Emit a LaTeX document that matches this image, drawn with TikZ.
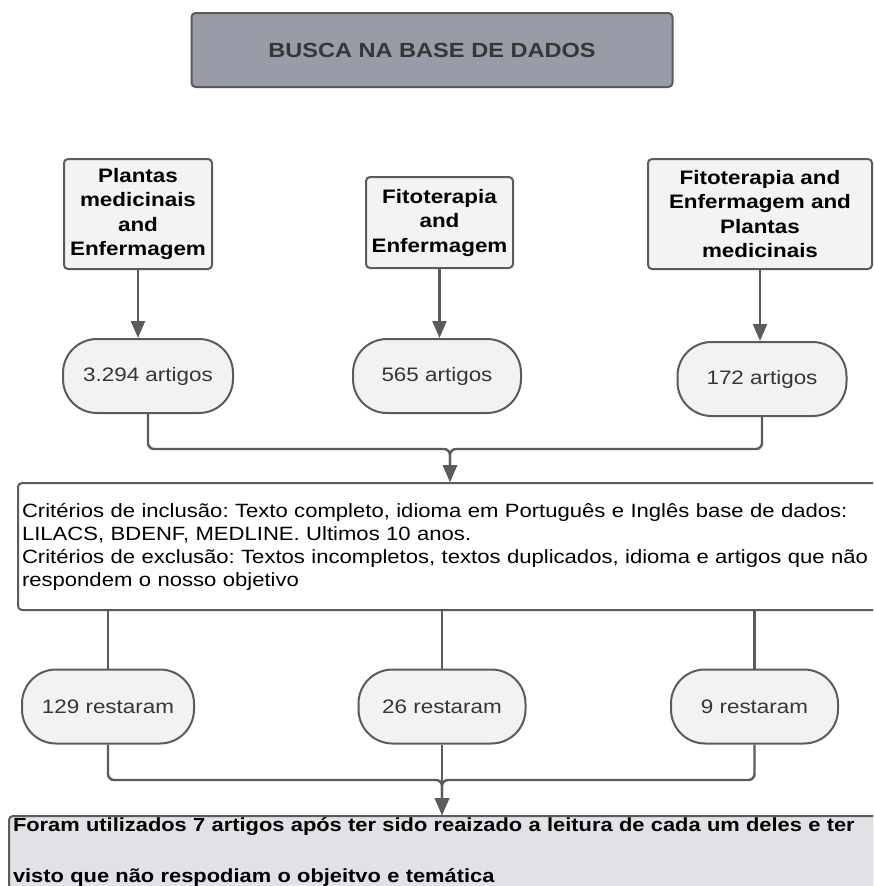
\documentclass[tikz,border=0pt]{standalone}
\usepackage{fontspec}
\setmainfont[FakeStretch=1.15]{Liberation Sans}
\frenchspacing
\usetikzlibrary{arrows.meta}
\definecolor{linegray}{HTML}{5B5B5B}
\definecolor{titlefill}{HTML}{979CA6}
\definecolor{boxfill}{HTML}{F2F3F5}
\definecolor{ovalfill}{HTML}{F1F2F4}
\definecolor{endfill}{HTML}{E0E2E6}
\definecolor{darktext}{HTML}{363636}

\begin{document}
\begin{tikzpicture}[x=1pt,y=-1pt,
    searchbox/.style={draw=linegray, line width=2pt, fill=boxfill, rounded corners=4pt,
      align=center, inner sep=2pt, font=\fontsize{19.5}{24.5}\selectfont\bfseries},
    countoval/.style={draw=linegray, line width=2pt, fill=ovalfill, rounded corners=34pt,
      minimum width=169pt, minimum height=74pt, text=darktext, font=\fontsize{19.5}{23}\selectfont},
    link/.style={draw=linegray, line width=2.4pt, rounded corners=6pt},
    arr/.style={link, -{Triangle[width=14pt,length=17pt]}}]
        \useasboundingbox (0,0) rectangle (873,886);
        \clip (0,0) rectangle (873,886);
        % Title
        \node[searchbox, fill=titlefill, text=darktext, minimum width=481pt, minimum height=74pt,
          font=\fontsize{20.5}{24.5}\selectfont\bfseries] (busca) at (432,50) {BUSCA NA BASE DE DADOS};
        % Search terms
        \node[searchbox, minimum width=148pt, minimum height=110pt] (b1) at (138,214) {Plantas\\medicinais\\and\\Enfermagem};
        \node[searchbox, minimum width=147pt, minimum height=91pt] (b2) at (439.5,222.5) {Fitoterapia\\and\\Enfermagem};
        \node[searchbox, minimum width=224pt, minimum height=110pt] (b3) at (760,214) {Fitoterapia and\\Enfermagem and\\Plantas\\medicinais};
        % Articles found
        \node[countoval, minimum width=170pt] (e1) at (148,376) {3.294 artigos};
        \node[countoval, minimum width=168pt] (e2) at (437,376) {565 artigos};
        \node[countoval] (e3) at (762,379) {172 artigos};
        \draw[arr] (b1.south) -- (b1.south |- e1.north);
        \draw[arr] (b2.south) -- (b2.south |- e2.north);
        \draw[arr] (b3.south) -- (b3.south |- e3.north);
        % Criteria
        \node[draw=linegray, line width=2pt, fill=white, rounded corners=4pt, text width=856pt, inner xsep=4pt,
          minimum height=127pt, align=left, font=\fontsize{19.2}{23}\selectfont] (crit) at (450,546.5)
          {Critérios de inclusão: Texto completo, idioma em Português e Inglês base de dados:\\
           LILACS, BDENF, MEDLINE. Ultimos 10 anos.\\
           Critérios de exclusão: Textos incompletos, textos duplicados, idioma e artigos que não\\
           respondem o nosso objetivo};
        \coordinate (join1) at (450,449);
        \draw[arr] (e1.south) |- (join1) -- (crit.north);
        \draw[arr] (e3.south) |- (join1) -- (crit.north);
        % Remaining
        \node[countoval, minimum width=172pt] (r1) at (108,706.5) {129 restaram};
        \node[countoval, minimum width=167pt] (r2) at (442,706.5) {26 restaram};
        \node[countoval, minimum width=167pt] (r3) at (754.5,706.5) {9 restaram};
        \draw[link] (crit.south -| r1.north) -- (r1.north);
        \draw[link] (crit.south -| r2.north) -- (r2.north);
        \draw[link] (crit.south -| r3.north) -- (r3.north);
        % Result
        \node[draw=linegray, line width=2pt, fill=endfill, rounded corners=4pt, anchor=north west, text width=864pt,
          inner xsep=4pt, inner ysep=2pt, align=left, font=\fontsize{19}{51}\selectfont\bfseries] (final) at (8,815)
          {Foram utilizados 7 artigos após ter sido reaizado a leitura de cada um deles e ter\\
           visto que não respodiam o objeitvo e temática};
        \coordinate (join2) at (442,780);
        \draw[arr] (r1.south) |- (join2) -- (join2 |- final.north);
        \draw[arr] (r3.south) |- (join2) -- (join2 |- final.north);
        \draw[arr] (r2.south) -- (join2) -- (join2 |- final.north);
\end{tikzpicture}
\end{document}
